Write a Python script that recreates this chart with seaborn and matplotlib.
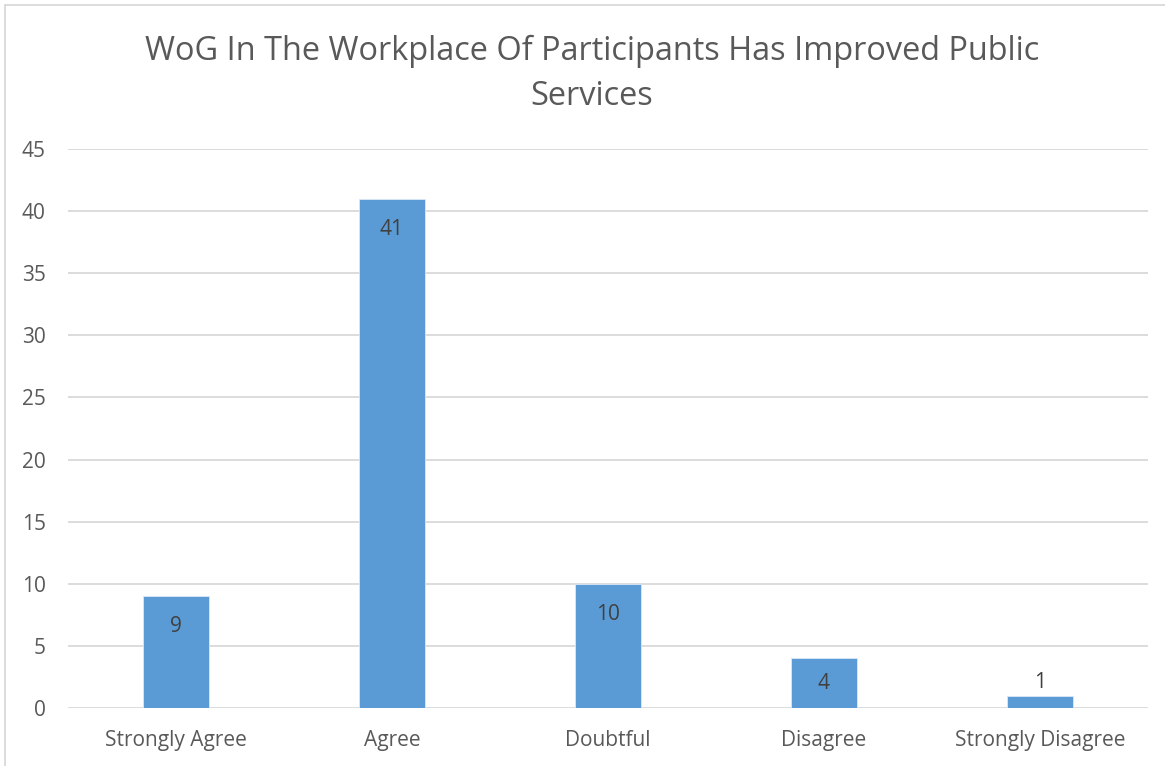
import matplotlib
matplotlib.use("Agg")
import matplotlib.pyplot as plt
import seaborn as sns
import pandas as pd
from matplotlib.lines import Line2D

categories = ["Strongly Agree", "Agree", "Doubtful", "Disagree", "Strongly Disagree"]
values = [9, 41, 10, 4, 1]
yticks = [0, 5, 10, 15, 20, 25, 30, 35, 40, 45]
title = "WoG In The Workplace Of Participants Has Improved Public\nServices"

sns.set_theme(style="white")
plt.rcParams["font.family"] = ["Open Sans", "DejaVu Sans"]

df = pd.DataFrame({"category": categories, "value": values})

fig = plt.figure(figsize=(11.65, 7.66), dpi=100)
ax = fig.add_axes([68 / 1165, 1 - 708 / 766, (1148 - 68) / 1165, (708 - 149) / 766])

sns.barplot(data=df, x="category", y="value", color="#5B9BD5", width=0.31,
            saturation=1, ax=ax, edgecolor="#DCE8F5", linewidth=0.6, zorder=3)

ax.set_ylim(0, 45)
ax.set_yticks(yticks)
ax.set_yticklabels([str(t) for t in yticks])
ax.set_xlim(-0.5, len(categories) - 0.5)
ax.yaxis.grid(True, color="#D9D9D9", linewidth=1.3, zorder=0)
ax.set_axisbelow(True)
for s in ax.spines.values():
    s.set_visible(False)
ax.set_xlabel("")
ax.set_ylabel("")
ax.tick_params(axis="both", length=0, labelsize=15, labelcolor="#595959")
ax.tick_params(axis="y", pad=16)
ax.tick_params(axis="x", pad=16)

# data labels (inside end, or outside end when the bar is too short)
for i, v in enumerate(values):
    if v >= 3:
        y = max(v - 2.45, v / 2)
    else:
        y = v + 1.05
    ax.text(i, y, str(v), ha="center", va="center", fontsize=15, color="#404040", zorder=4)

fig.text(592 / 1165, 1 - 74 / 766, title, ha="center", va="center",
         fontsize=23.4, color="#595959", linespacing=1.45)

# chart area border (left and top visible)
fig.add_artist(Line2D([5 / 1165, 5 / 1165], [0, 1 - 5 / 766], transform=fig.transFigure,
                      color="#D9D9D9", linewidth=1.3))
fig.add_artist(Line2D([5 / 1165, 1], [1 - 5 / 766, 1 - 5 / 766], transform=fig.transFigure,
                      color="#D9D9D9", linewidth=1.3))

fig.savefig("out.png", dpi=100, facecolor="white")
